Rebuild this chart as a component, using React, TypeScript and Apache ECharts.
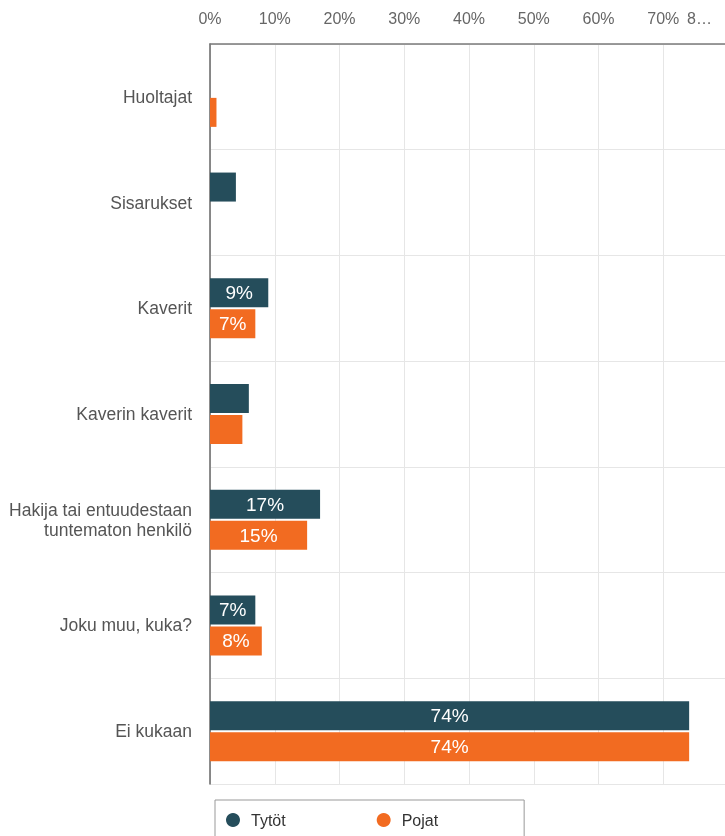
import React, { useEffect, useRef } from "react";
import * as echarts from "echarts";

const categories = [
  "Huoltajat",
  "Sisarukset",
  "Kaverit",
  "Kaverin kaverit",
  "Hakija tai entuudestaan\ntuntematon henkilö",
  "Joku muu, kuka?",
  "Ei kukaan",
];
const tytot = [0, 4, 9, 6, 17, 7, 74];
const pojat = [1, 0, 7, 5, 15, 8, 74];
const seriesNames = ["Tytöt", "Pojat"];
const colors = ["#254d5b", "#f26b21"];

export default function App() {
  const ref = useRef<HTMLDivElement>(null);
  useEffect(() => {
    if (!ref.current) return;
    const chart = echarts.init(ref.current, null, { renderer: "svg" });
    const labelCfg = {
      show: true,
      position: "inside",
      color: "#fff",
      fontSize: 19,
      fontFamily: "Liberation Sans, Arial, sans-serif",
      formatter: (p: any) => (p.value >= 7 ? p.value + "%" : ""),
    };
    chart.setOption({
      animation: false,
      textStyle: { fontFamily: "Liberation Sans, Arial, sans-serif" },
      grid: { left: 210, right: 5, top: 44, bottom: 52, containLabel: false },
      legend: {
        data: seriesNames,
        left: 215,
        top: 800,
        icon: "circle",
        itemWidth: 14,
        itemHeight: 14,
        itemGap: 91,
        padding: [12, 86, 24, 11],
        borderColor: "#999",
        borderWidth: 1,
        textStyle: { fontSize: 16, color: "#333", lineHeight: 16, padding: [0, 0, 0, 6] },
      },
      xAxis: {
        type: "value",
        position: "top",
        min: 0,
        max: 80,
        interval: 10,
        axisLine: { show: true, lineStyle: { color: "#7a7a7a", width: 1.5 } },
        axisTick: { show: false },
        splitLine: { show: true, lineStyle: { color: "#e6e6e6", width: 1 } },
        axisLabel: {
          color: "#666",
          fontSize: 16,
          margin: 18,
          alignMaxLabel: "right",
          formatter: (v: number) => (v === 80 ? "{m|8…}" : v + "%"),
          rich: { m: { color: "#666", fontSize: 16, padding: [0, 16, 0, 0] } },
        },
      },
      yAxis: {
        type: "category",
        data: categories,
        inverse: true,
        axisLine: { show: true, lineStyle: { color: "#666", width: 1.5 } },
        axisTick: { show: false },
        splitLine: { show: true, lineStyle: { color: "#e6e6e6", width: 1 } },
        axisLabel: {
          color: "#555",
          fontSize: 17.5,
          lineHeight: 20,
          margin: 18,
          align: "right",
        },
      },
      series: [
        {
          name: seriesNames[0],
          type: "bar",
          data: tytot,
          barWidth: 29,
          barGap: "7%",
          itemStyle: { color: colors[0] },
          label: labelCfg,
        },
        {
          name: seriesNames[1],
          type: "bar",
          data: pojat,
          barWidth: 29,
          barGap: "7%",
          itemStyle: { color: colors[1] },
          label: labelCfg,
        },
      ],
    });
    return () => chart.dispose();
  }, []);
  return (
    <div
      style={{
        position: "fixed",
        left: 0,
        top: 0,
        width: 725,
        height: 836,
        overflow: "hidden",
      }}
    >
      <div ref={ref} style={{ width: 733, height: 836 }} />
    </div>
  );
}
